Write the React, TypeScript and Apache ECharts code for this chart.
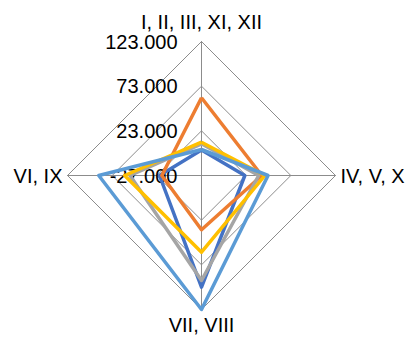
import React, { useEffect, useRef } from "react";
import * as echarts from "echarts";

// Indicators in ECharts order (top, then counter-clockwise: left, bottom, right)
const categories = ["I, II, III, XI, XII", "VI, IX", "VII, VIII", "IV, V, X"];
const axisMin = -27000;
const axisMax = 123000;

const seriesNames = ["Series 1", "Series 2", "Series 3", "Series 4", "Series 5"];
const series1 = [1500, 20000, 98000, 21500];
const series2 = [60000, 17400, 33800, 40500];
const series3 = [8500, 53000, 90500, 37000];
const series4 = [10300, 59000, 58800, 44000];
const series5 = [2100, 88000, 123000, 47500];
const colors = ["#4472C4", "#ED7D31", "#A5A5A5", "#FFC000", "#5B9BD5"];

const FONT = "'Liberation Sans', Arial, sans-serif";

export default function App() {
  const ref = useRef<HTMLDivElement>(null);
  useEffect(() => {
    if (!ref.current) return;
    const chart = echarts.init(ref.current, null, { renderer: "svg" });
    const all = [series1, series2, series3, series4, series5];
    chart.setOption({
      animation: false,
      radar: {
        center: [201.5, 175.5],
        radius: 134,
        shape: "polygon",
        splitNumber: 3,
        startAngle: 90,
        axisName: { color: "#000", fontSize: 20, fontFamily: FONT },
        nameGap: 5,
        splitLine: { lineStyle: { color: "#8C8C8C", width: 1 } },
        splitArea: { show: false },
        axisLine: { lineStyle: { color: "#8C8C8C", width: 1 } },
        axisTick: { show: false },
        axisLabel: { show: false },
        indicator: categories.map((c, i) => ({
          name: c,
          min: axisMin,
          max: axisMax,
          axisLabel:
            i === 0
              ? {
                  show: true,
                  color: "#000",
                  fontSize: 20,
                  fontFamily: FONT,
                  margin: 24,
                  formatter: (v: number) =>
                    (v < 0 ? "-" : "") + Math.abs(v).toLocaleString("de-DE"),
                }
              : { show: false },
        })),
      },
      series: [
        {
          type: "radar",
          symbol: "none",
          data: all.map((vals, i) => ({
            name: seriesNames[i],
            value: vals,
            lineStyle: { color: colors[i], width: 3.5 },
            itemStyle: { color: colors[i] },
          })),
        },
      ],
    });
    return () => chart.dispose();
  }, []);
  return (
    <div
      ref={ref}
      style={{ position: "fixed", left: 0, top: 0, width: 417, height: 338, background: "#fff" }}
    />
  );
}
